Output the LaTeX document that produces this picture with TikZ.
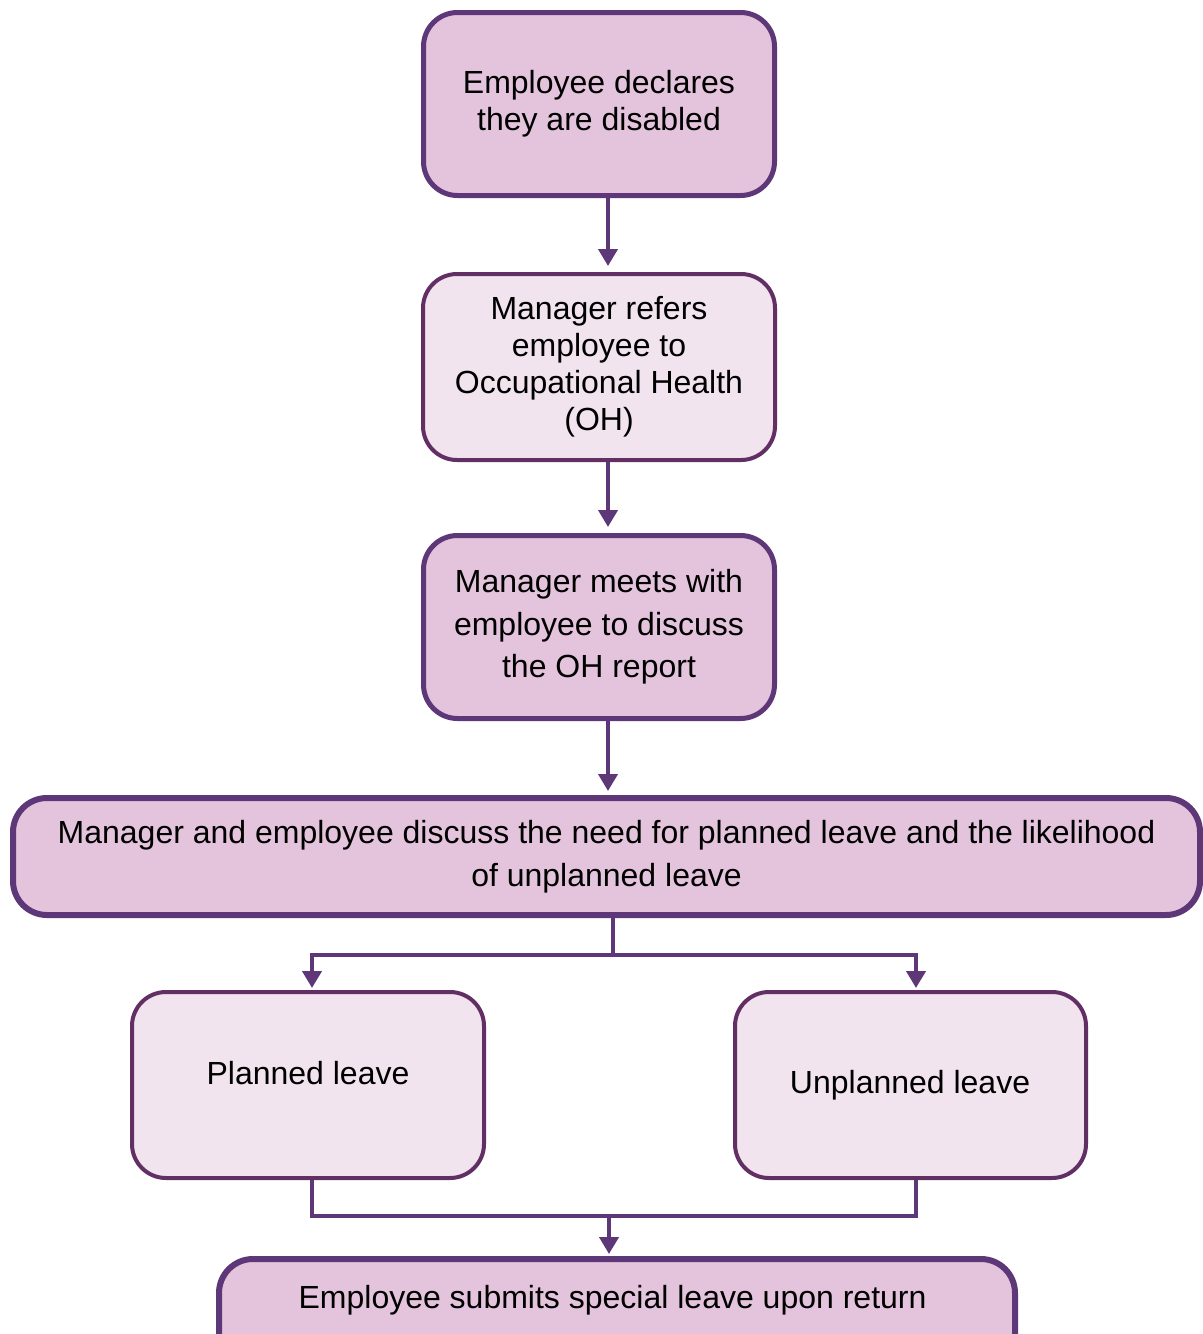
\documentclass[tikz,border=0pt]{standalone}
\usepackage{fontspec}
\setmainfont{Liberation Sans}
\usetikzlibrary{arrows.meta}
\definecolor{boxline}{HTML}{5E3779}
\definecolor{softline}{HTML}{612F63}
\definecolor{darkfill}{HTML}{E4C4DD}
\definecolor{lightfill}{HTML}{F1E4EF}
\tikzset{
    stepstrong/.style={draw=boxline,fill=darkfill,line width=2.5pt,rounded corners=17pt,
        align=center,inner sep=0pt,font=\fontsize{16}{21.25}\selectfont},
    steplight/.style={draw=softline,fill=lightfill,line width=2pt,rounded corners=17pt,
        align=center,inner sep=0pt,font=\fontsize{16}{18.5}\selectfont},
    flow/.style={draw=boxline,line width=2pt,-{Triangle[width=9.5pt,length=8.5pt]}},
    link/.style={draw=boxline,line width=2pt},
}

\begin{document}
\begin{tikzpicture}[x=0.5pt,y=-0.5pt]
            \useasboundingbox (0,0) rectangle (1203,1334);
            \node[stepstrong,font=\fontsize{16}{18.5}\selectfont,minimum width=175.5pt,minimum height=91.5pt] (declare) at (599,104) {
                Employee declares\\they are disabled
            };
            \node[steplight,minimum width=176pt,minimum height=93pt] (refer) at (599,367) {
                Manager refers\\employee to\\Occupational Health\\(OH)
            };
            \node[stepstrong,minimum width=175.5pt,minimum height=91.5pt] (meet) at (599,627) {
                Manager meets with\\employee to discuss\\the OH report
            };
            \node[stepstrong,line width=3pt,minimum width=593.5pt,minimum height=58.5pt] (discuss) at (606.5,856.5) {
                Manager and employee discuss the need for planned leave and the likelihood\\of unplanned leave
            };
            \node[steplight,minimum width=176pt,minimum height=93pt] (planned) at (308,1085) {
                Planned leave\\[-6pt]
            };
            \node[steplight,minimum width=175.5pt,minimum height=93pt] (unplanned) at (910.5,1085) {
                \hspace*{4pt}Unplanned leave
            };
            \node[stepstrong,line width=3pt,minimum width=398pt,text height=24.5pt,text depth=30pt,anchor=north] (submit) at (617,1256) {
                Employee submits special leave upon return
            };
            \coordinate (spine) at (608,0);
            \coordinate (split) at (613,955);
            \coordinate (merge) at (609,1216);
            \draw[flow,shorten >=3pt](declare.south -| spine)--(refer.north -| spine);
            \draw[flow,shorten >=3pt](refer.south -| spine)--(meet.north -| spine);
            \draw[flow,shorten >=2pt](meet.south -| spine)--(discuss.north -| spine);
            \draw[link](discuss.south -| split)--(split);
            \draw[flow,shorten >=1pt](split)-|([xshift=2pt]planned.north);
            \draw[flow,shorten >=1pt](split)-|([xshift=2.75pt]unplanned.north);
            \draw[link]([xshift=2pt]planned.south)|-(merge)-|([xshift=2.75pt]unplanned.south);
            \draw[flow,shorten >=1pt](merge)--(submit.north -| merge);
\end{tikzpicture}
\end{document}
